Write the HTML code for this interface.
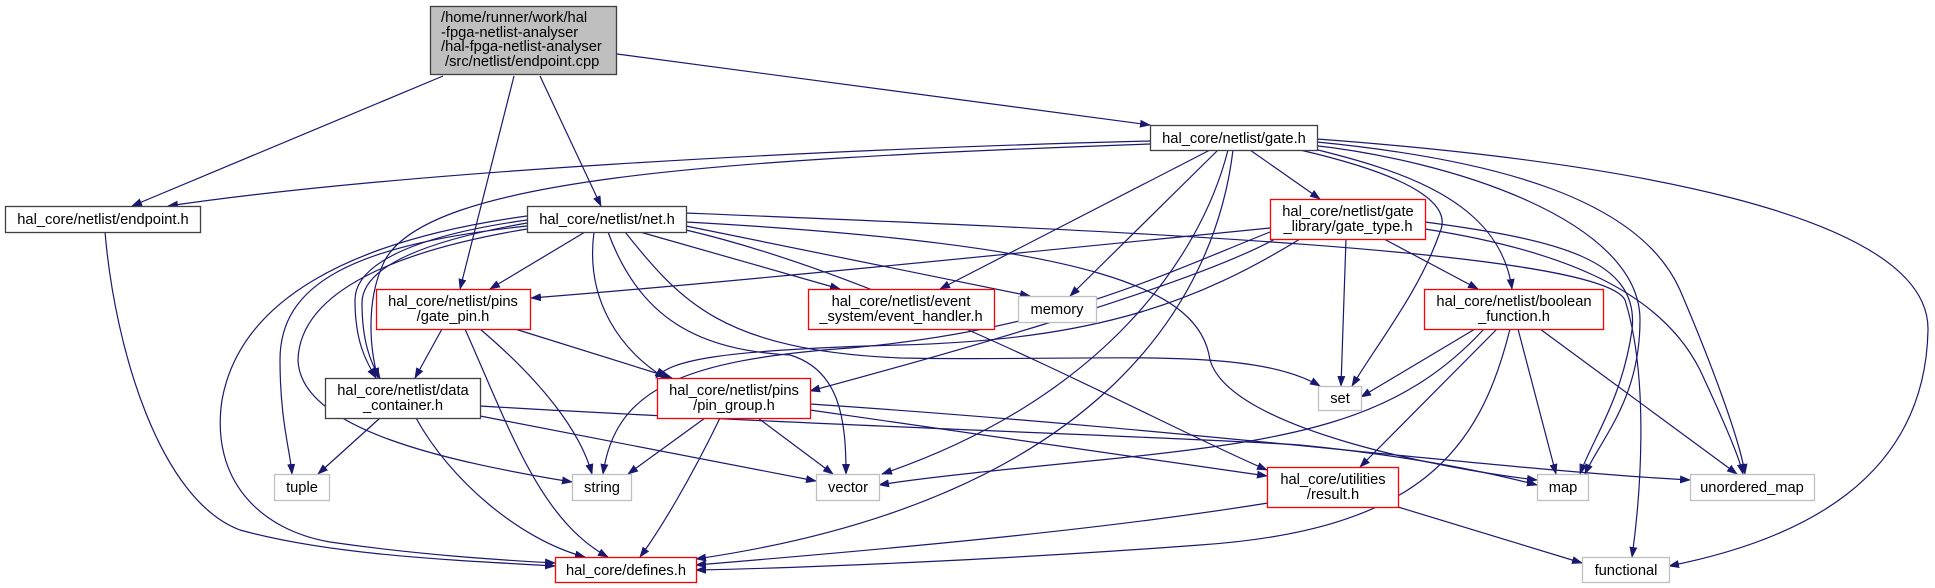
<!DOCTYPE html>
<html><head><meta charset="utf-8"><style>
html,body{margin:0;padding:0;background:#fff;}
svg{display:block;}
text{font-family:"Liberation Sans",sans-serif;font-size:14.7px;fill:#000;}
.e{fill:none;stroke:#191970;stroke-width:1.2;marker-end:url(#a);}
</style></head><body>
<svg width="1935" height="588" viewBox="0 0 1935 588" xmlns="http://www.w3.org/2000/svg">
<defs><marker id="a" markerUnits="userSpaceOnUse" markerWidth="11" markerHeight="8" refX="10" refY="4" orient="auto"><path d="M0,0 L11,4 L0,8 z" fill="#191970"/></marker></defs>
<g>
<path class="e" d="M443,76 L132,206"/>
<path class="e" d="M514,76 L460,289"/>
<path class="e" d="M540,76 L601,206"/>
<path class="e" d="M617,54 L1150,125"/>
<path class="e" d="M1150,141 C 800,150 400,172 168,206"/>
<path class="e" d="M1150,144 C 700,160 430,180 385,260 C 365,300 370,350 378,378"/>
<path class="e" d="M1210,150 L940,289"/>
<path class="e" d="M1218,150 L1070,296"/>
<path class="e" d="M1228,150 C 1200,260 1100,400 882,474"/>
<path class="e" d="M1233,150 C 1215,300 1100,500 696,559"/>
<path class="e" d="M1250,150 L1320,199"/>
<path class="e" d="M1300,150 C 1430,180 1450,210 1440,232 C 1420,290 1380,340 1352,386"/>
<path class="e" d="M1310,148 C 1400,170 1500,200 1512,289"/>
<path class="e" d="M1310,145 C 1450,160 1640,220 1640,320 C 1640,400 1600,440 1585,474"/>
<path class="e" d="M1317,142 C 1500,160 1640,200 1680,290 C 1710,360 1740,440 1745,474"/>
<path class="e" d="M1317,139 C 1600,160 1930,210 1928,330 C 1925,480 1800,540 1669,566"/>
<path class="e" d="M1270,228 C 1000,255 700,285 531,298"/>
<path class="e" d="M1275,239 C 1200,280 1000,340 810,391"/>
<path class="e" d="M1300,239 C 1200,300 1100,340 900,345 C 720,350 670,360 656,378"/>
<path class="e" d="M1270,232 C 1150,280 1050,330 850,348 C 680,360 615,390 603,474"/>
<path class="e" d="M1346,239 L1341,386"/>
<path class="e" d="M1384,239 L1478,289"/>
<path class="e" d="M1425,222 C 1560,240 1640,260 1632,330 C 1622,400 1592,440 1580,474"/>
<path class="e" d="M1425,229 C 1560,250 1660,290 1700,370 C 1728,430 1740,460 1743,474"/>
<path class="e" d="M585,232 L490,289"/>
<path class="e" d="M527,220 C 420,235 355,262 355,300 C 355,340 365,360 376,378"/>
<path class="e" d="M527,223 C 430,240 362,265 362,303 C 362,340 370,362 380,378"/>
<path class="e" d="M527,226 C 350,245 280,285 280,360 C 280,420 290,450 292,474"/>
<path class="e" d="M527,229 C 400,250 300,290 298,360 C 300,430 450,462 572,482"/>
<path class="e" d="M527,216 C 350,240 240,300 222,400 C 210,480 260,530 330,542 C 420,555 500,560 555,563"/>
<path class="e" d="M594,232 C 585,300 620,350 665,378"/>
<path class="e" d="M640,232 L840,289"/>
<path class="e" d="M686,226 L1030,296"/>
<path class="e" d="M608,232 C 640,320 700,350 790,355 C 840,370 846,420 846,474"/>
<path class="e" d="M625,232 C 680,300 720,350 900,358 C 1100,362 1250,345 1320,386"/>
<path class="e" d="M686,222 C 1100,245 1200,290 1210,360 C 1230,430 1450,470 1537,480"/>
<path class="e" d="M686,230 C 900,280 1150,420 1267,470"/>
<path class="e" d="M686,213 C 1100,230 1600,250 1625,300 C 1650,380 1640,500 1632,557"/>
<path class="e" d="M105,232 C 115,350 160,500 240,530 C 330,555 450,560 555,566"/>
<path class="e" d="M442,329 L415,378"/>
<path class="e" d="M515,329 L672,378"/>
<path class="e" d="M480,329 C 540,380 580,430 592,474"/>
<path class="e" d="M465,329 C 510,430 540,520 608,557"/>
<path class="e" d="M380,418 L318,474"/>
<path class="e" d="M416,418 C 450,480 520,540 585,557"/>
<path class="e" d="M480,416 L816,481"/>
<path class="e" d="M480,406 C 800,425 1200,438 1300,445 C 1400,455 1480,470 1537,485"/>
<path class="e" d="M705,418 L628,474"/>
<path class="e" d="M720,418 C 690,480 660,530 640,557"/>
<path class="e" d="M758,418 L833,474"/>
<path class="e" d="M810,410 L1267,476"/>
<path class="e" d="M810,404 C 1200,430 1500,470 1690,480"/>
<path class="e" d="M1475,329 L1361,397"/>
<path class="e" d="M1484,329 C 1400,420 1300,440 1100,460 C 1000,470 920,478 879,485"/>
<path class="e" d="M1497,329 L1360,467"/>
<path class="e" d="M1510,329 C 1480,450 1420,530 1200,545 C 1000,560 800,568 696,570"/>
<path class="e" d="M1518,329 L1556,474"/>
<path class="e" d="M1540,329 L1737,474"/>
<path class="e" d="M1268,503 C 1100,530 900,548 696,565"/>
<path class="e" d="M1398,507 L1582,563"/>
</g>
<g stroke-width="1.3">
<rect x="430.5" y="6.5" width="186" height="68" fill="#bfbfbf" stroke="#404040"/>
<rect x="5.5" y="206.5" width="195" height="26" fill="#fff" stroke="#404040"/>
<rect x="527.5" y="206.5" width="159" height="26" fill="#fff" stroke="#404040"/>
<rect x="1150.5" y="125.5" width="167" height="25" fill="#fff" stroke="#404040"/>
<rect x="1270.5" y="199.5" width="155" height="40" fill="#fff" stroke="#ff0000"/>
<rect x="376.5" y="289.5" width="154" height="40" fill="#fff" stroke="#ff0000"/>
<rect x="808.5" y="289.5" width="186" height="40" fill="#fff" stroke="#ff0000"/>
<rect x="1018.5" y="296.5" width="78" height="26" fill="#fff" stroke="#bfbfbf"/>
<rect x="1424.5" y="289.5" width="179" height="40" fill="#fff" stroke="#ff0000"/>
<rect x="325.5" y="378.5" width="155" height="40" fill="#fff" stroke="#404040"/>
<rect x="657.5" y="378.5" width="153" height="40" fill="#fff" stroke="#ff0000"/>
<rect x="1318.5" y="386.5" width="43" height="24" fill="#fff" stroke="#bfbfbf"/>
<rect x="274.5" y="474.5" width="55" height="26" fill="#fff" stroke="#bfbfbf"/>
<rect x="572.5" y="474.5" width="59" height="26" fill="#fff" stroke="#bfbfbf"/>
<rect x="816.5" y="474.5" width="63" height="26" fill="#fff" stroke="#bfbfbf"/>
<rect x="1537.5" y="474.5" width="51" height="26" fill="#fff" stroke="#bfbfbf"/>
<rect x="1690.5" y="474.5" width="124" height="26" fill="#fff" stroke="#bfbfbf"/>
<rect x="1267.5" y="467.5" width="131" height="40" fill="#fff" stroke="#ff0000"/>
<rect x="555.5" y="557.5" width="141" height="25" fill="#fff" stroke="#ff0000"/>
<rect x="1582.5" y="557.5" width="87" height="25" fill="#fff" stroke="#bfbfbf"/>
</g>
<g>
<text x="441" y="22">/home/runner/work/hal</text>
<text x="441" y="37">-fpga-netlist-analyser</text>
<text x="441" y="51">/hal-fpga-netlist-analyser</text>
<text x="445" y="66">/src/netlist/endpoint.cpp</text>
</g>
<g text-anchor="middle">
<text x="103" y="224">hal_core/netlist/endpoint.h</text>
<text x="607" y="224">hal_core/netlist/net.h</text>
<text x="1234" y="143">hal_core/netlist/gate.h</text>
<text x="1348" y="216">hal_core/netlist/gate</text>
<text x="1348" y="231">_library/gate_type.h</text>
<text x="453" y="306">hal_core/netlist/pins</text>
<text x="453" y="321">/gate_pin.h</text>
<text x="901" y="306">hal_core/netlist/event</text>
<text x="901" y="321">_system/event_handler.h</text>
<text x="1057" y="314">memory</text>
<text x="1514" y="306">hal_core/netlist/boolean</text>
<text x="1514" y="321">_function.h</text>
<text x="403" y="395">hal_core/netlist/data</text>
<text x="403" y="410">_container.h</text>
<text x="734" y="395">hal_core/netlist/pins</text>
<text x="734" y="410">/pin_group.h</text>
<text x="1340" y="403">set</text>
<text x="302" y="492">tuple</text>
<text x="602" y="492">string</text>
<text x="848" y="492">vector</text>
<text x="1563" y="492">map</text>
<text x="1752" y="492">unordered_map</text>
<text x="1333" y="484">hal_core/utilities</text>
<text x="1333" y="499">/result.h</text>
<text x="626" y="575">hal_core/defines.h</text>
<text x="1626" y="575">functional</text>
</g>
</svg>
</body></html>
